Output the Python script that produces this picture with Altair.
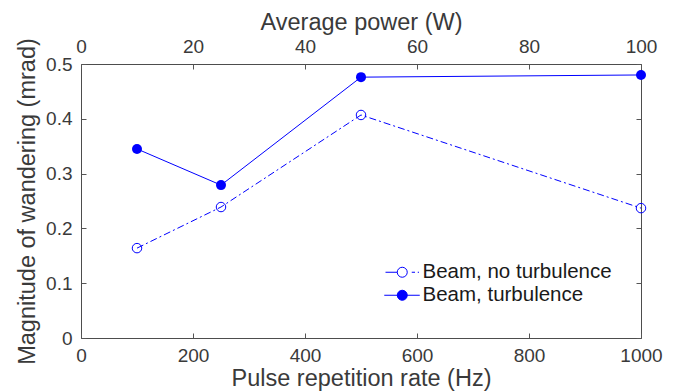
import altair as alt
import pandas as pd

# ---- data ----
rate_hz = [100, 250, 500, 1000]
wander_no_turb = [0.164, 0.239, 0.407, 0.237]
wander_turb = [0.345, 0.279, 0.476, 0.480]
series_names = ["Beam, no turbulence", "Beam, turbulence"]
x_ticks = [0, 200, 400, 600, 800, 1000]
power_ticks = [0, 20, 40, 60, 80, 100]
y_ticks = [0, 0.1, 0.2, 0.3, 0.4, 0.5]

df = pd.DataFrame({
    "rate": rate_hz * 2,
    "wander": wander_no_turb + wander_turb,
    "series": [series_names[0]] * len(rate_hz) + [series_names[1]] * len(rate_hz),
})
power_df = pd.DataFrame({"power": power_ticks})

W, H = 560, 274
BLUE = "#0000ff"
TEXT = "#3a3a3a"
FONT = "Liberation Sans"
TICK = 5
LABEL_SIZE = 19
TITLE_SIZE = 23.5
LEGEND_SIZE = 20.5

xs = alt.Scale(domain=[0, 1000], nice=False, zero=False)
ys = alt.Scale(domain=[0, 0.5], nice=False)
ps = alt.Scale(domain=[0, 100], nice=False)

base = alt.Chart(df)
no_t = base.transform_filter(alt.datum.series == series_names[0])
tu_t = base.transform_filter(alt.datum.series == series_names[1])

label_style = dict(labelFont=FONT, labelFontSize=LABEL_SIZE, labelColor=TEXT,
                   titleFont=FONT, titleFontSize=TITLE_SIZE, titleColor=TEXT,
                   titleFontWeight="normal", grid=False, domain=False,
                   labelFlush=False, labelOverlap=False)


def tick_axis(orient, values):
    return alt.Axis(orient=orient, values=values, labels=False, title=None,
                    domain=False, grid=False, ticks=True, tickSize=TICK,
                    offset=-TICK, tickColor="#555555", tickWidth=1)


# bottom labels + left labels
line_no = no_t.mark_line(color=BLUE, strokeWidth=1, strokeDash=[7, 3, 2, 3]).encode(
    x=alt.X("rate:Q", scale=xs,
            axis=alt.Axis(orient="bottom", values=x_ticks, ticks=False, tickSize=0,
                          labelPadding=8, title="Pulse repetition rate (Hz)",
                          titlePadding=1, format="d", **label_style)),
    y=alt.Y("wander:Q", scale=ys,
            axis=alt.Axis(orient="left", values=y_ticks, ticks=False, tickSize=0,
                          labelPadding=9, title="Magnitude of wandering (mrad)",
                          titlePadding=6,
                          labelExpr="datum.value == 0 ? '0' : format(datum.value, '.1f')",
                          **label_style)),
)

# bottom + left inward ticks
line_tu = tu_t.mark_line(color=BLUE, strokeWidth=1).encode(
    x=alt.X("rate:Q", scale=xs, axis=tick_axis("bottom", x_ticks)),
    y=alt.Y("wander:Q", scale=ys, axis=tick_axis("left", y_ticks)),
)

# top + right inward ticks
pts_no = no_t.mark_point(shape="circle", filled=False, size=90, stroke=BLUE,
                         strokeWidth=1, opacity=1).encode(
    x=alt.X("rate:Q", scale=xs, axis=tick_axis("top", x_ticks)),
    y=alt.Y("wander:Q", scale=ys, axis=tick_axis("right", y_ticks)),
)

pts_tu = tu_t.mark_point(shape="circle", filled=True, size=100, color=BLUE,
                         opacity=1).encode(
    x=alt.X("rate:Q", scale=xs, axis=None),
    y=alt.Y("wander:Q", scale=ys, axis=None),
)

# top axis (average power)
top_axis = alt.Chart(power_df).mark_point(opacity=0).encode(
    x=alt.X("power:Q", scale=ps,
            axis=alt.Axis(orient="top", values=power_ticks, ticks=False, tickSize=0,
                          labelPadding=8, title="Average power (W)", titlePadding=3,
                          **label_style)),
)

# legend (symbols: line + marker)
circ = "M-1,0A1,1 0 1,0 1,0A1,1 0 1,0 -1,0Z"
path_no = "M-3.35,0H-1M1.9,0H2.55M3.1,0H3.35" + circ
path_tu = "M-3.6,0H3.5" + circ
leg = alt.Legend(orient="none", legendX=311, legendY=198, title=None,
                 labelFont=FONT, labelFontSize=LEGEND_SIZE, labelColor="#1a1a1a",
                 labelLimit=400, symbolSize=100, symbolStrokeWidth=1,
                 labelOffset=10, rowPadding=2, padding=0)
legend_layer = base.transform_filter("false").mark_point(
    filled=True, strokeWidth=1, opacity=1).encode(
    shape=alt.Shape("series:N", scale=alt.Scale(domain=series_names,
                                                range=[path_no, path_tu]), legend=leg),
    fill=alt.Fill("series:N", scale=alt.Scale(domain=series_names,
                                              range=["white", BLUE]), legend=leg),
    stroke=alt.Stroke("series:N", scale=alt.Scale(domain=series_names,
                                                  range=[BLUE, BLUE]), legend=leg),
)

chart = alt.layer(line_no, line_tu, pts_no, pts_tu, top_axis, legend_layer).resolve_scale(
    x="independent", y="independent"
).properties(
    width=W, height=H,
    background="white",
    autosize=alt.AutoSizeParams(type="none"),
    padding={"left": 81, "top": 64, "right": 41, "bottom": 54},
).configure_view(
    stroke="#4d4d4d", strokeWidth=1
)

chart.save("out.html", embed_options={"renderer": "svg", "actions": False})
